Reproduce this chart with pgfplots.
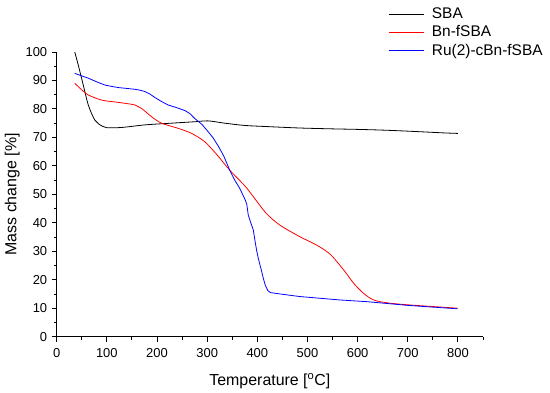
\documentclass[border=0pt]{standalone}
\usepackage{pgfplots}
\pgfplotsset{compat=1.18}
\usepackage{fontspec}
\setmainfont{Liberation Sans}
\begin{document}
\begin{tikzpicture}
\begin{axis}[
  at={(0,0)}, anchor=south west,
  scale only axis, width=426.3bp, height=284.7bp,
  xmin=0, xmax=850, ymin=0, ymax=100,
  axis x line*=bottom, axis y line*=left,
  axis line style={line width=1.2pt, -},
  xtick={0,100,...,800}, minor xtick={50,150,...,850},
  ytick={0,10,...,100}, minor ytick={5,15,...,95},
  tick align=outside,
  major tick length=5bp, minor tick length=3bp,
  every tick/.style={black, line width=0.9pt},
  /pgf/number format/assume math mode=true,
  tick label style={font=\fontsize{13}{15}\selectfont},
  xticklabel style={yshift=-3bp},
  yticklabel style={xshift=-1bp},
  label style={font=\fontsize{16}{19}\selectfont},
  xlabel={Temperature [\textsuperscript{o}C]},
  ylabel={Mass change [\%]},
  xlabel style={yshift=-9bp},
  ylabel style={yshift=-1bp},
  clip=false,
  legend cell align=left,
  legend style={draw=none, fill=none, at={(0.777,1.163)}, anchor=north west,
    font=\fontsize{15.5}{18}\selectfont, row sep=1.6bp, inner sep=0pt},
  legend image code/.code={\draw[#1] (0bp,0bp) -- (35bp,0bp); \path (41bp,0bp);},
]
\addplot[black, line width=0.8pt, smooth] coordinates {
(36,100) (43,95.4) (53,88.4) (63,81.4) (76,76.1) (90,74) (100,73.4) (130,73.5)
(176,74.4) (229,75) (275,75.5) (302,75.8) (335,75) (375,74.2) (420,73.8)
(485,73.3) (550,73) (604,72.8) (660,72.5) (724,72) (770,71.6) (800,71.4)};
\addlegendentry{SBA}
\addplot[red, line width=0.8pt, smooth] coordinates {
(36,89) (50,86.7) (63,84.9) (90,83.1) (123,82.3) (156,81.4) (169,80.2) (189,77.3)
(209,75) (242,73.2) (269,71.4) (295,68.5) (320,63.8) (345,58.5) (375,53) (392,49.2)
(418,43.3) (445,39.2) (485,35.1) (518,32.2) (545,29) (572,23.5) (592,18.8)
(612,15.2) (632,12.9) (659,11.9) (700,11.2) (750,10.6) (800,10)};
\addlegendentry{Bn-fSBA}
\addplot[blue, line width=0.8pt] coordinates {
(36,92.5) (50,91.6) (63,90.8) (80,89.5) (96,88.4) (110,87.9) (123,87.5) (140,87.2)
(156,86.9) (166,86.6) (176,86.1) (186,85.2) (196,84) (209,82.6) (222,81.4)
(240,80.4) (256,79.4) (266,78.3) (275,76.7) (290,74.5) (302,72) (312,69.8)
(322,67) (333,63.5) (345,58.5) (355,55) (365,52.1) (372,49.5) (376,48) (379,46.5)
(382,42.7) (387,40) (392,37.5) (396,33) (399,30) (402,27.5) (408,23.4) (412,20.5)
(416,18) (421,16.2) (426,15.5) (450,14.9) (485,14.1) (565,12.9) (619,12.3)
(700,11) (799,9.8)};
\addlegendentry{Ru(2)-cBn-fSBA}
\end{axis}
\useasboundingbox (-56.7bp,-56.3bp) rectangle (493.3bp,336.7bp);
\end{tikzpicture}
\end{document}
